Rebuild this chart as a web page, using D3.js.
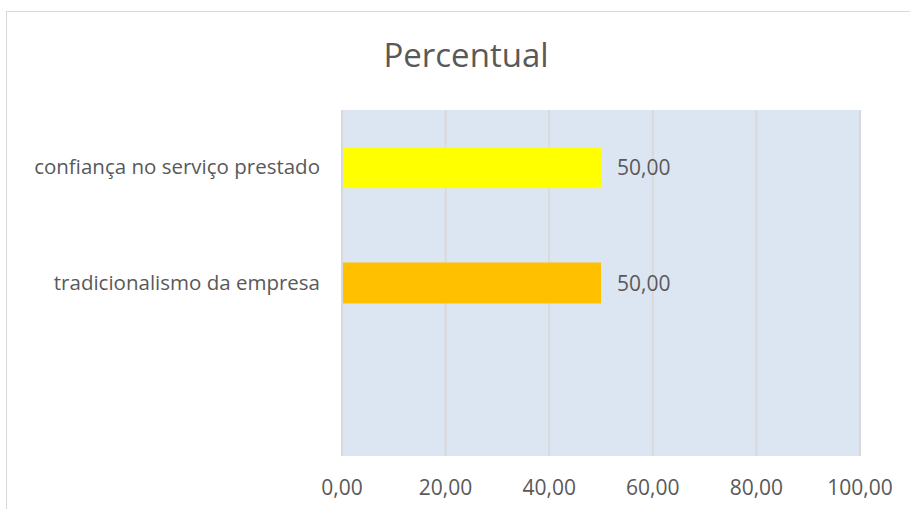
<!DOCTYPE html>
<html>
<head>
<meta charset="utf-8">
<script src="https://cdn.jsdelivr.net/npm/d3@7"></script>
<style>
  body { margin: 0; background: #fff; }
  text { font-family: "Open Sans", "Liberation Sans", sans-serif; fill: #595959; }
</style>
</head>
<body>
<svg width="910" height="509"></svg>
<script>
// Categories (top to bottom) and their values
const categories = ["confiança no serviço prestado", "tradicionalismo da empresa", ""];
const values = [50, 50, null];
const barColors = ["#ffff00", "#ffc000", "none"];
const xTicks = [0, 20, 40, 60, 80, 100];

const svg = d3.select("svg");

// Chart frame
svg.append("rect")
    .attr("x", 6.5).attr("y", 11.5)
    .attr("width", 920).attr("height", 520)
    .attr("fill", "#fff")
    .attr("stroke", "#d9d9d9");

const margin = {top: 110, right: 50, bottom: 53, left: 342},
      width = 860 - margin.left,
      height = 456 - margin.top;

const g = svg.append("g")
    .attr("transform", `translate(${margin.left},${margin.top})`);

const x = d3.scaleLinear().domain([0, 100]).range([0, width]);
const y = d3.scaleBand().domain(d3.range(categories.length)).range([0, height]).paddingInner(0.645).paddingOuter(0.3225);

// Plot background
g.append("rect")
    .attr("width", width).attr("height", height)
    .attr("fill", "#dce6f2");

// Vertical gridlines
g.selectAll(".grid")
  .data(xTicks)
  .join("line")
    .attr("x1", d => x(d)).attr("x2", d => x(d))
    .attr("y1", 0).attr("y2", height)
    .attr("stroke", "#d9d9d9")
    .attr("stroke-width", 2);

// Bars
const rows = categories.map((c, i) => ({c, v: values[i], color: barColors[i], i}));
g.selectAll(".bar")
  .data(rows.filter(d => d.v != null))
  .join("rect")
    .attr("x", x(0) + 1)
    .attr("y", d => y(d.i))
    .attr("width", d => x(d.v) - x(0) - 1)
    .attr("height", y.bandwidth())
    .attr("fill", d => d.color);

// Value labels
g.selectAll(".val")
  .data(rows.filter(d => d.v != null))
  .join("text")
    .attr("x", d => x(d.v) + 16)
    .attr("y", d => y(d.i) + y.bandwidth() / 2)
    .attr("dy", "0.36em")
    .style("font-size", "21px")
    .text(d => d3.format(".2f")(d.v).replace(".", ","));

// Category labels
g.selectAll(".cat")
  .data(rows)
  .join("text")
    .attr("x", -22)
    .attr("y", d => y(d.i) + y.bandwidth() / 2)
    .attr("dy", "0.32em")
    .attr("text-anchor", "end")
    .style("font-size", "20.5px")
    .text(d => d.c);

// X tick labels
g.selectAll(".tick")
  .data(xTicks)
  .join("text")
    .attr("x", d => x(d))
    .attr("y", height + 39)
    .attr("text-anchor", "middle")
    .style("font-size", "21px")
    .text(d => d3.format(".2f")(d).replace(".", ","));

// Title
svg.append("text")
    .attr("x", 466)
    .attr("y", 67)
    .attr("text-anchor", "middle")
    .style("font-size", "33px")
    .text("Percentual");
</script>
</body>
</html>
